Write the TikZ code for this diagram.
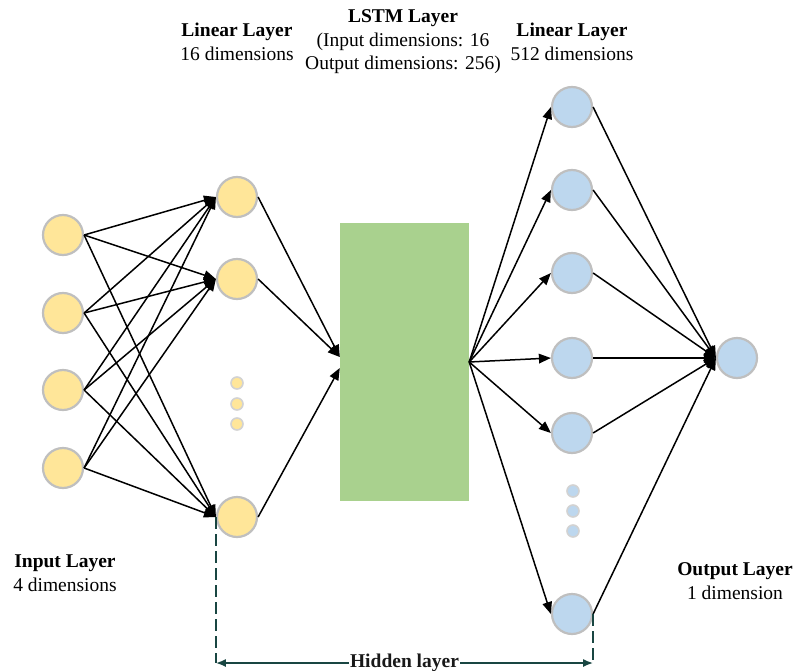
\documentclass[tikz,border=0pt]{standalone}
\usepackage{fontspec}
\setmainfont{Liberation Serif}
\usetikzlibrary{arrows.meta}

\definecolor{inyellow}{HTML}{FFE699}
\definecolor{outblue}{HTML}{BDD7EE}
\definecolor{lstmgreen}{HTML}{A9D18E}
\definecolor{dimteal}{RGB}{25,70,66}

\tikzset{
		neuron/.style    = {circle, draw=gray!50, line width=2.2pt, minimum size=40pt, inner sep=0pt},
		inneuron/.style  = {neuron, fill=inyellow},
		outneuron/.style = {neuron, fill=outblue},
		dotnode/.style   = {circle, draw=gray!35, line width=1.6pt, minimum size=12pt, inner sep=0pt},
		conn/.style      = {-{Triangle[length=12pt,width=9.5pt]}, line width=1.5pt},
		caption/.style   = {align=center, font=\fontsize{19.5}{23.5}\selectfont},
		dimline/.style   = {dimteal, line width=1.6pt, dash pattern=on 12pt off 5pt},
		dimarrow/.style  = {dimteal, line width=1.6pt, {Latex[length=10pt,width=8pt]}-{Latex[length=10pt,width=8pt]}}
	}

\begin{document}
\begin{tikzpicture}[x=1pt, y=-1pt]
		\useasboundingbox (0,0) rectangle (797,671);
		
		% input layer, 4 neurons
		\foreach \y [count=\i] in {235,313,390,468}
		\node[inneuron] (a\i) at (63,\y) {};
		
		% first linear layer, the dots stand for the hidden ones
		\foreach \y [count=\i] in {197,279,517}
		\node[inneuron] (b\i) at (237,\y) {};
		\foreach \y [count=\i] in {383,404,424}
		\node[dotnode, fill=inyellow] (bd\i) at (237,\y) {};
		
		% the LSTM block
		\node[fill=lstmgreen, minimum width=129pt, minimum height=278pt, inner sep=0pt] (lstm) at (404.5,362) {};
		
		% second linear layer
		\foreach \y [count=\i] in {107,190,273,358,433,614}
		\node[outneuron] (c\i) at (572,\y) {};
		\foreach \y [count=\i] in {491,511,531}
		\node[dotnode, fill=outblue] (cd\i) at (573,\y) {};
		
		% output layer
		\node[outneuron] (out) at (737,358) {};
		
		% layer captions
		\node[caption] (capb) at (237,42) {\textbf{Linear Layer}\\16 dimensions};
		\node[caption] (caplstm) at (403,42) {\textbf{LSTM Layer}\\(Input dimensions: 16\\Output dimensions: 256)};
		\node[caption] (capc) at (572,42) {\textbf{Linear Layer}\\512 dimensions};
		\node[caption] (capa) at (65,573) {\textbf{Input Layer}\\4 dimensions};
		\node[caption] (capout) at (735,581) {\textbf{Output Layer}\\1 dimension};
		
		% every input to every visible neuron of the first linear layer
		\foreach \i in {1,...,4}
		\foreach \j in {1,2,3}
		\draw[conn] (a\i.east) -- (b\j.west);
		
		\draw[conn] (b1.east) -- ([yshift=5pt]lstm.west);
		\draw[conn] (b2.east) -- ([yshift=5pt]lstm.west);
		\draw[conn] (b3.east) -- ([yshift=-6pt]lstm.west);
		
		\foreach \i in {1,...,6}
		\draw[conn] (lstm.east) -- (c\i.west);
		
		\foreach \i in {1,...,6}
		\draw[conn] (c\i.east) -- (out.west);
		
		% span of the hidden layer
		\draw[dimline] (b3.west) -- ++(0,146) coordinate (dl);
		\draw[dimline] (c6.east) -- ++(0,49) coordinate (dr);
		\draw[dimarrow] (dl) -- (dr) node[midway, fill=white, text=black!90, inner sep=1pt, font=\fontsize{19.5}{23}\selectfont\bfseries] (hid) {Hidden layer};
		
\end{tikzpicture}
\end{document}
